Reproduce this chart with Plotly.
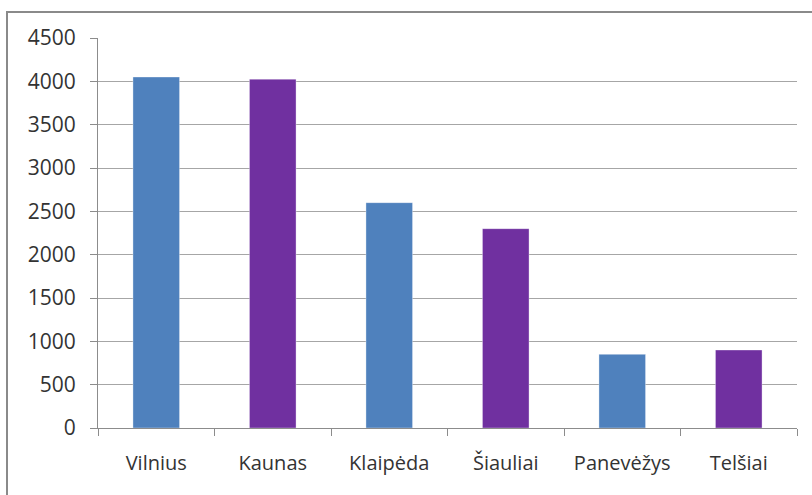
import plotly.graph_objects as go

categories = ["Vilnius", "Kaunas", "Klaipėda", "Šiauliai", "Panevėžys", "Telšiai"]
values = [4050, 4025, 2600, 2300, 850, 900]
bar_colors = ["#4F81BD", "#7030A0", "#4F81BD", "#7030A0", "#4F81BD", "#7030A0"]
y_ticks = [0, 500, 1000, 1500, 2000, 2500, 3000, 3500, 4000, 4500]

W, H = 812, 495
ml, mr, mt, mb = 98, 15, 38, 67
pw = W - ml - mr
ph = H - mt - mb

fig = go.Figure(go.Bar(
    x=categories, y=values,
    marker=dict(color=bar_colors, line=dict(color="rgba(255,255,255,0.35)", width=1)),
    width=0.4,
))

xfont = dict(family="Open Sans, DejaVu Sans, sans-serif", size=20, color="#333333")
yfont = dict(family="Open Sans, DejaVu Sans, sans-serif", size=21, color="#333333")

fig.update_layout(
    width=W, height=H,
    margin=dict(l=ml, r=mr, t=mt, b=mb, autoexpand=False),
    paper_bgcolor="white", plot_bgcolor="white",
    showlegend=False,
    font=xfont,
    bargap=0.6,
    xaxis=dict(
        showgrid=False, showline=True, linecolor="#8c8c8c", linewidth=1,
        ticks="outside", ticklen=7, tickcolor="#8c8c8c",
        tickson="boundaries", ticklabelstandoff=17,
        range=[-0.5, 5.5], tickfont=xfont, automargin=False,
    ),
    yaxis=dict(
        range=[0, 4500], tickvals=y_ticks, showgrid=True,
        gridcolor="#a6a6a6", gridwidth=1,
        showline=True, linecolor="#8c8c8c", linewidth=1,
        ticks="outside", ticklen=7, tickcolor="#8c8c8c",
        ticklabelstandoff=10, zeroline=False, tickfont=yfont, automargin=False,
    ),
    shapes=[dict(
        type="rect", xref="paper", yref="paper",
        x0=(7 - ml) / pw, x1=1.2,
        y0=-0.3, y1=(H - mb - 12) / ph,
        line=dict(color="#8a8a8a", width=2), fillcolor="rgba(0,0,0,0)",
        layer="below",
    )],
)

fig.write_html("out.html", config={"displayModeBar": False},
               post_script="document.body.style.margin='0';document.body.style.padding='0';")
